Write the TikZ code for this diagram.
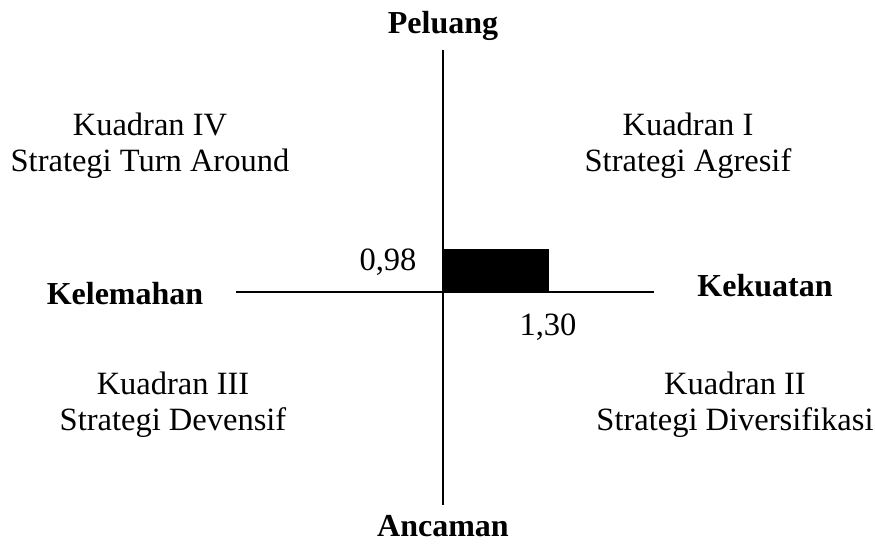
\documentclass[tikz,border=0pt]{standalone}
\usepackage{fontspec}
\setmainfont{Liberation Serif}
\begin{document}
\begin{tikzpicture}[x=1pt,y=1pt,
  every node/.style={font=\fontsize{32.5}{36}\selectfont},
  judul/.style={font=\fontsize{32}{36}\selectfont\bfseries},
  kuadran/.style={align=center}]
\useasboundingbox (-443,-258) rectangle (432,292);
% sumbu
\coordinate (kiri) at (-207,0);
\coordinate (kanan) at (211,0);
\coordinate (atas) at (0,242);
\coordinate (bawah) at (0,-213);
\draw[line width=2pt] (kiri) -- (kanan);
\draw[line width=2pt] (atas) -- (bawah);
\fill (0,0) rectangle (106,43);
% label sumbu
\node[judul,anchor=base] (peluang) at (0,259) {Peluang};
\node[judul,anchor=base] (ancaman) at (0,-244) {Ancaman};
\node[judul,anchor=base] (kekuatan) at (322,-4) {Kekuatan};
\node[judul,anchor=base] (kelemahan) at (-318,-12) {Kelemahan};
% kuadran
\node[kuadran] (k1) at (245,146) {Kuadran I\\Strategi Agresif};
\node[kuadran] (k2) at (292,-113) {Kuadran II\\Strategi Diversifikasi};
\node[kuadran] (k3) at (-270,-113) {Kuadran III\\Strategi Devensif};
\node[kuadran] (k4) at (-293,146) {Kuadran IV\\Strategi Turn Around};
% nilai
\node (y) at (-55,30) {0,98};
\node (x) at (105,-35) {1,30};
\end{tikzpicture}
\end{document}
